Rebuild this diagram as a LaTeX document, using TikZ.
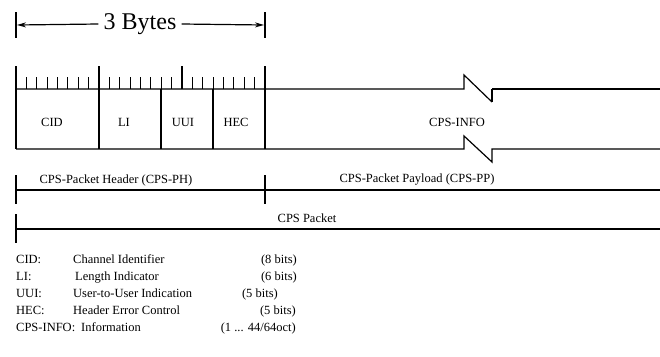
\documentclass[tikz,border=0pt]{standalone}
\usepackage{fontspec}
\setmainfont{Liberation Serif}
\usetikzlibrary{arrows.meta}
\begin{document}
\begin{tikzpicture}[x=1pt,y=-1pt,
  ln/.style={line width=1.2pt,black},
  big/.style={font=\fontsize{24}{26}\selectfont,inner sep=0pt},
  sm/.style={font=\fontsize{12.5}{14}\selectfont,inner sep=0pt},
  lg/.style={font=\fontsize{12.5}{14}\selectfont,inner sep=0pt,anchor=base west},
  lgr/.style={font=\fontsize{12.5}{14}\selectfont,inner sep=0pt,anchor=base east}]
\useasboundingbox (0,0) rectangle (660,356);
% 3 Bytes dimension
\coordinate (bl) at (17,25);
\coordinate (br) at (264,25);
\draw[ln] (16,12) -- (16,38);
\draw[ln] (265,12) -- (265,38);
\node[big] (bytes) at (140,24) {3 Bytes};
\draw[ln,-{Stealth[length=9pt,width=5pt]}] (bytes.west) ++(-5,0) -- (bl);
\draw[ln,-{Stealth[length=9pt,width=5pt]}] (bytes.east) ++(5,0) -- (br);
% ruler ticks
\foreach \k in {0,...,24}{
  \pgfmathsetmacro{\xx}{16+10.375*\k}
  \draw[ln] (\xx,89) -- (\xx,77);
}
\foreach \k in {0,8,16,24}{
  \pgfmathsetmacro{\xx}{16+10.375*\k}
  \draw[ln] (\xx,89) -- (\xx,66);
}
% frame
\draw[ln] (16,89) -- (464,89) -- (464,75) -- (492,102);
\draw[ln] (492,89) -- (492,102);
\draw[ln] (492,89) -- (660,89);
\draw[ln] (16,149) -- (464,149) -- (464,136) -- (492,162) -- (492,149) -- (660,149);
\foreach \xx in {16,99,161,213,265}{
  \draw[ln] (\xx,89) -- (\xx,149);
}
\node[sm] (cid) at (52,122) {CID};
\node[sm] (li) at (124,122) {LI};
\node[sm] (uui) at (183,122) {UUI};
\node[sm] (hec) at (236,122) {HEC};
\node[sm] (info) at (457,122) {CPS-INFO};
% header / payload
\draw[ln] (16,190) -- (660,190);
\draw[ln] (16,175) -- (16,204);
\draw[ln] (265,175) -- (265,204);
\node[sm] (ph) at (116,180) {CPS-Packet Header (CPS-PH)};
\node[sm] (pp) at (417,180) {CPS-Packet Payload (CPS-PP)};
% packet
\draw[ln] (16,229) -- (660,229);
\draw[ln] (16,214) -- (16,243);
\node[sm] (pk) at (307,218) {CPS Packet};
% legend
\node[lg] (a1) at (16,263) {CID:};
\node[lg] (a2) at (16,280) {LI:};
\node[lg] (a3) at (16,297) {UUI:};
\node[lg] (a4) at (16,314) {HEC:};
\node[lg] (a5) at (16,331) {CPS-INFO:};
\node[lg] (b1) at (73,263) {Channel Identifier};
\node[lg] (b2) at (75,280) {Length Indicator};
\node[lg] (b3) at (73,297) {User-to-User Indication};
\node[lg] (b4) at (73,314) {Header Error Control};
\node[lg] (b5) at (81,331) {Information};
\node[lgr] (c1) at (297,263) {(8 bits)};
\node[lgr] (c2) at (297,280) {(6 bits)};
\node[lgr] (c3) at (278,297) {(5 bits)};
\node[lgr] (c4) at (296,314) {(5 bits)};
\node[lgr] (c5) at (296,331) {(1 ... 44/64oct)};
\end{tikzpicture}
\end{document}
